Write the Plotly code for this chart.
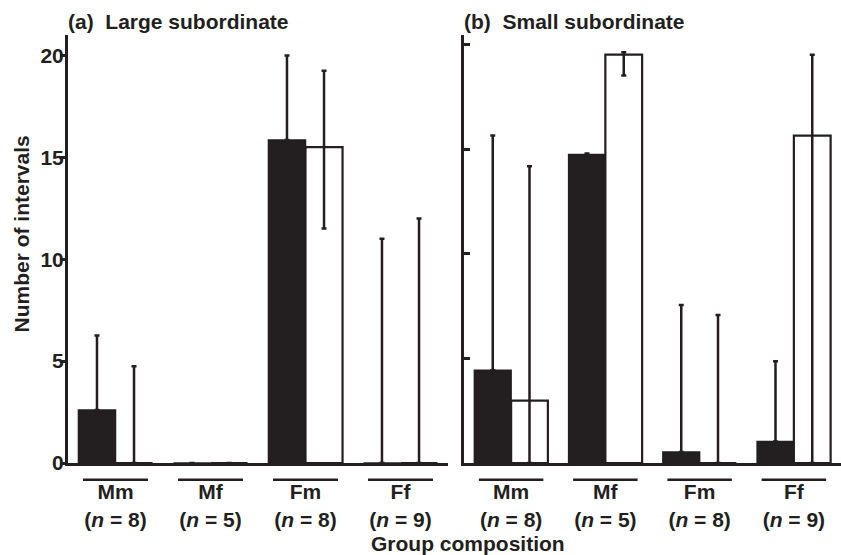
import plotly.graph_objects as go

# ---- data ----
categories = ["Mm", "Mf", "Fm", "Ff"]
group_n = [8, 5, 8, 9]

# (a) Large subordinate
a_filled = [2.6, 0.0, 15.85, 0.0]
a_filled_upper = [6.25, 0.0, 20.0, 11.0]
a_open = [0.0, 0.0, 15.5, 0.0]
a_open_upper = [4.75, 0.0, 19.25, 12.0]
a_open_lower = [0.0, 0.0, 11.5, 0.0]

# (b) Small subordinate
b_filled = [4.43, 14.75, 0.53, 1.03]
b_filled_upper = [15.65, 14.8, 7.55, 4.86]
b_open = [2.98, 19.52, 0.0, 15.65]
b_open_upper = [14.18, 19.63, 7.07, 19.52]
b_open_lower = [0.0, 18.52, 0.0, 0.0]

y_ticks = [0, 5, 10, 15, 20]

INK = "#231f20"
FONT = "Liberation Sans, Arial, Helvetica, sans-serif"
FS = 21

x_pos = list(range(len(categories)))
tick_text = [f"{c}<br>(<i>n</i> = {n})" for c, n in zip(categories, group_n)]


def err(vals, upper, lower=None):
    plus = [u - v for u, v in zip(upper, vals)]
    if lower is None:
        minus = [0.0] * len(vals)
    else:
        minus = [v - l for v, l in zip(vals, lower)]
    return dict(type="data", symmetric=False, array=plus, arrayminus=minus,
                color=INK, thickness=2.5, width=2.5)


fig = go.Figure()

for xa, ya, filled, fu, opn, ou, ol in [
    ("x", "y", a_filled, a_filled_upper, a_open, a_open_upper, a_open_lower),
    ("x2", "y2", b_filled, b_filled_upper, b_open, b_open_upper, b_open_lower),
]:
    fig.add_trace(go.Bar(
        x=x_pos, y=filled, xaxis=xa, yaxis=ya, name="filled",
        marker=dict(color=INK, line=dict(color=INK, width=1.5)),
        error_y=err(filled, fu), showlegend=False,
    ))
    fig.add_trace(go.Bar(
        x=x_pos, y=opn, xaxis=xa, yaxis=ya, name="open",
        marker=dict(color="white", line=dict(color=INK, width=2.2)),
        error_y=err(opn, ou, ol), showlegend=False,
    ))

W, H = 841, 555
L, R, T, B = 68, 0, 35, 92
pw = W - L - R
ph = H - T - B

dom_a = [0, (448 - L) / pw]
dom_b = [(464 - L) / pw, 1]

xcommon = dict(
    range=[-0.5, 3.5], showline=True, linewidth=3, linecolor=INK,
    ticks="", tickvals=x_pos, ticktext=tick_text, showgrid=False,
    zeroline=False, tickfont=dict(family=FONT, size=FS, color=INK, weight="bold"),
    ticklabelstandoff=8,
)
fig.update_layout(
    width=W, height=H,
    margin=dict(l=L, r=R, t=T, b=B, pad=0),
    paper_bgcolor="white", plot_bgcolor="white",
    barmode="group", bargap=0.22, bargroupgap=0.0,
    font=dict(family=FONT, size=FS, color=INK, weight="bold"),
    xaxis=dict(domain=dom_a, anchor="y", **xcommon),
    xaxis2=dict(domain=dom_b, anchor="y2", **xcommon),
    yaxis=dict(
        range=[0, 21.0], tickvals=y_ticks, showline=True, linewidth=3,
        linecolor=INK, ticks="outside", ticklen=5, tickwidth=2.5,
        tickcolor=INK, showgrid=False, zeroline=False,
        tickfont=dict(family=FONT, size=FS, color=INK, weight="bold"),
        ticklabelstandoff=-8,
    ),
    yaxis2=dict(
        range=[0, 20.46], tickvals=y_ticks, showline=True, linewidth=3,
        linecolor=INK, ticks="inside", ticklen=6, tickwidth=2.5,
        tickcolor=INK, showgrid=False, zeroline=False, showticklabels=False,
        anchor="x2",
    ),
)

# group underline bars above category labels
shapes = []
for xr, yr in [("x", "y domain"), ("x2", "y2 domain")]:
    for i in x_pos:
        shapes.append(dict(type="line", xref=xr, yref=yr,
                           x0=i - 0.342, x1=i + 0.342, y0=-0.039, y1=-0.039,
                           line=dict(color=INK, width=2.5)))
fig.update_layout(shapes=shapes)

fig.add_annotation(text="(a)  Large subordinate", xref="x domain", yref="paper",
                   x=-0.005, y=(463 - 22) / ph, xanchor="left", yanchor="middle",
                   showarrow=False, font=dict(family=FONT, size=FS, color=INK, weight="bold"))
fig.add_annotation(text="(b)  Small subordinate", xref="x2 domain", yref="paper",
                   x=-0.005, y=(463 - 22) / ph, xanchor="left", yanchor="middle",
                   showarrow=False, font=dict(family=FONT, size=FS, color=INK, weight="bold"))
fig.add_annotation(text="Number of intervals", xref="paper", yref="paper",
                   x=(20.5 - L) / pw, y=(463 - 234) / ph, textangle=-90,
                   xanchor="center", yanchor="middle", showarrow=False,
                   font=dict(family=FONT, size=FS, color=INK, weight="bold"))
fig.add_annotation(text="Group composition", xref="paper", yref="paper",
                   x=(468 - L) / pw, y=(463 - 543) / ph,
                   xanchor="center", yanchor="middle", showarrow=False,
                   font=dict(family=FONT, size=FS, color=INK, weight="bold"))

fig.write_html("out.html",
               config={"displayModeBar": False},
               post_script="document.body.style.margin='0';document.body.style.padding='0';")
